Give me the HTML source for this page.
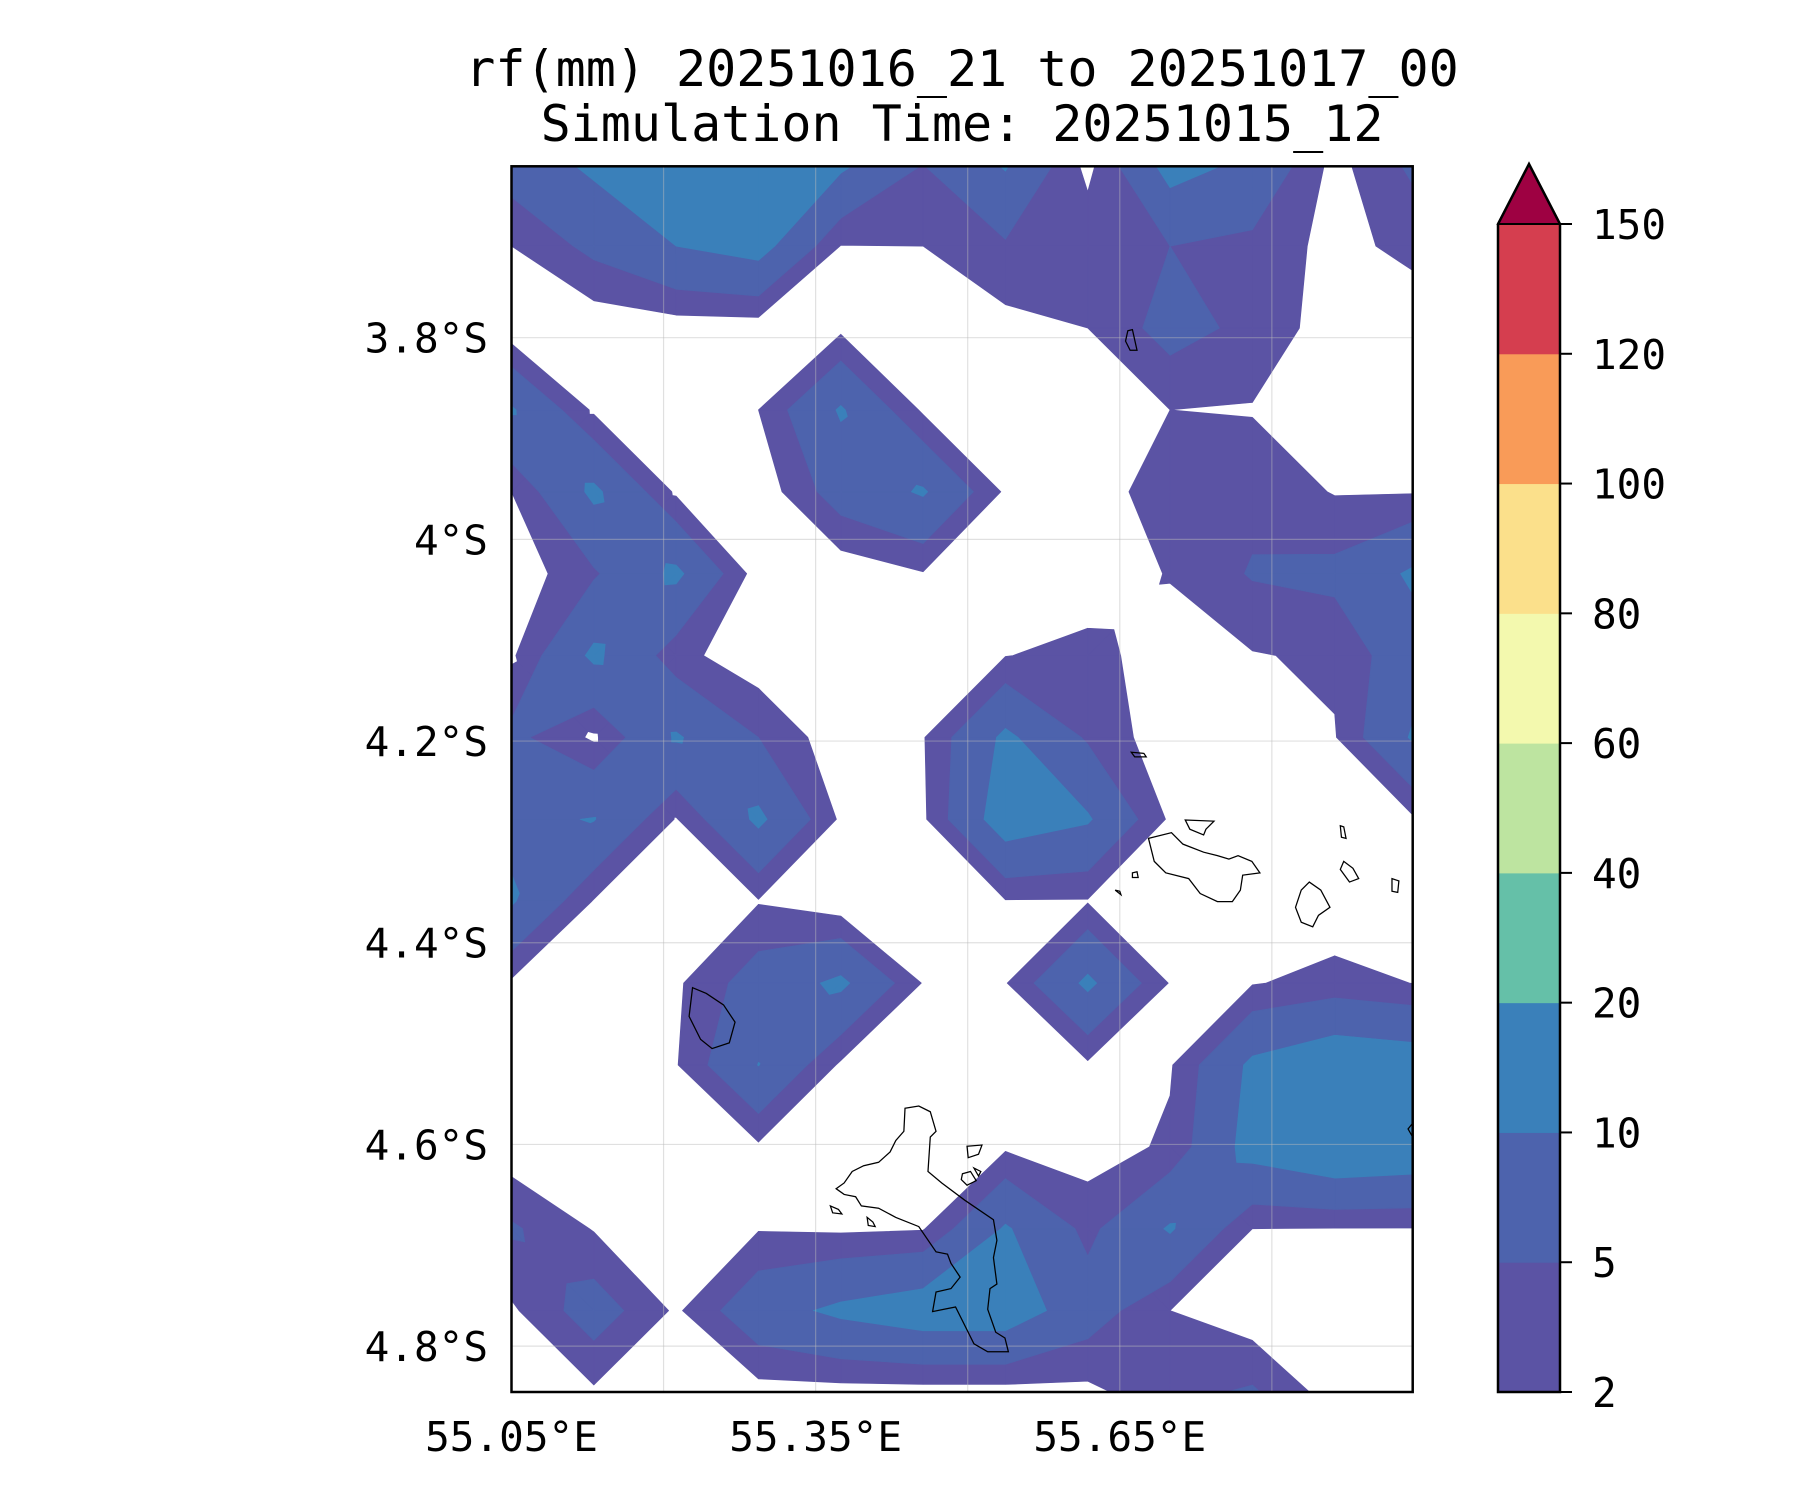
<!DOCTYPE html>
<html><head><meta charset="utf-8"><style>
html,body{margin:0;padding:0;background:#fff;}
svg{display:block;font-family:"DejaVu Sans Mono","Liberation Mono",monospace;}
</style></head><body>
<svg id="chart" width="1800" height="1500" viewBox="0 0 1800 1500" xmlns="http://www.w3.org/2000/svg">
  <text x="962" y="86" font-size="50" text-anchor="middle" fill="#000">rf(mm) 20251016_21 to 20251017_00</text>
  <text x="962" y="141" font-size="50" text-anchor="middle" fill="#000">Simulation Time: 20251015_12</text>
  <defs><clipPath id="mapclip"><rect x="511.5" y="166.3" width="901.2" height="1225.7"/></clipPath></defs>
  <g id="contours" clip-path="url(#mapclip)"></g>
  <g id="grid" clip-path="url(#mapclip)"></g>
  <g id="coast" clip-path="url(#mapclip)" transform="scale(1.1485)" fill="none" stroke="#000" stroke-width="1.1">
    <path d="M788,965 L800,963 810,968 815,985 810,990 808,1020 820,1030 840,1045 865,1062 868,1080 865,1095 868,1118 862,1122 860,1140 867,1160 875,1165 878,1177 860,1177 848,1170 838,1150 832,1138 822,1140 812,1142 815,1125 828,1122 836,1112 828,1100 825,1092 815,1090 800,1068 780,1060 765,1052 750,1050 745,1042 735,1040 728,1035 735,1030 742,1020 752,1015 765,1012 775,1003 780,993 787,985 Z"/>
    <path d="M842,998 L855,997 852,1005 843,1008 Z M838,1022 L845,1020 850,1028 842,1032 837,1027 Z M848,1017 L854,1020 852,1024 Z M723,1050 L730,1053 733,1057 725,1056 Z M755,1060 L760,1064 762,1068 756,1067 Z"/>
    <path d="M1000,730 L1020,725 1030,735 1048,742 1060,745 1070,748 1078,745 1090,750 1097,760 1082,762 1080,775 1073,785 1060,785 1045,778 1035,765 1015,760 1005,750 Z"/>
    <path d="M1140,768 L1150,775 1158,790 1148,797 1143,807 1133,803 1128,790 1133,775 Z"/>
    <path d="M603,860 L615,865 630,875 640,890 635,908 620,913 610,905 600,885 Z"/>
    <path d="M982,288 L986,287 990,305 984,305 980,297 Z M1032,714 L1057,715 1050,722 1048,727 1036,722 Z M985,655 L996,656 998,659 988,659 Z M1167,719 L1170,720 1172,730 1168,729 Z M1170,750 L1178,756 1183,765 1175,768 1167,757 Z M1212,765 L1218,767 1217,777 1212,776 Z M1230,978 L1226,983 1230,990 Z M986,760 L990,759 991,764 986,764 Z M971,775 L975,776 976,779 Z"/>
  </g>
  <rect x="511.5" y="166.3" width="901.2" height="1225.7" fill="none" stroke="#000" stroke-width="2.5"/>
  <g id="axes" font-size="41" fill="#000"></g>
  <g id="cbar"></g>
</svg>
<script>
// ---- data ----
const levels = [2, 5, 10, 20, 40, 60, 80, 100, 120, 150];
const levelColors = ["#5b53a4", "#4d63ad", "#3a80ba", "#65c0a8", "#bde4a0", "#f3f9ae", "#fbe08b", "#f99b58", "#d53e4f"];
const extendColor = "#9e0142";
const gridLons = [55.05,55.1312,55.2124,55.2936,55.3748,55.456,55.5372,55.6184,55.6996,55.7808,55.862,55.9432];
const gridLats = [-3.628,-3.7092,-3.7904,-3.8716,-3.9528,-4.034,-4.1152,-4.1964,-4.2776,-4.3588,-4.44,-4.5212,-4.6024,-4.6836,-4.7648,-4.846];
const row0  = [7,11,14,14,11,5,10.5,1,12,9,1,6];
const row1  = [2,6,10,12,1.9,2,4.5,4,5,4,1,3];
const row2  = [0,0,0.5,0.5,1.3,0,1,2,6.5,4,0.5,0];
const row3  = [10.5,1.5,0,2,10.5,1.5,0,0,2,1.8,0,0];
const row4  = [2,11,1.5,0,7,10.5,1.5,0,4,4,1.8,1.8];
const row5  = [0,4.5,11,0.5,0,1.8,0,0,2.2,5.3,6,11];
const row6  = [1.5,11,3,0,0,0,1.9,3,0.5,1.8,2.5,8];
const row7  = [6,1.5,10.5,5,0,1.8,11,4.5,0,0,1.8,11];
const row8  = [9,10.2,1.8,11,1.5,1.5,13,10.5,1.5,0,0,2];
const row9  = [10.5,1.8,0,1.8,0,0,1.8,1.8,0,0,0,0];
const row10 = [1.5,0,1.5,7,11,1.8,1.8,11,1.8,1.8,3,1.9];
const row11 = [0,0,1.8,10.1,1.5,0,0,1.5,1.7,11,14,13];
const row12 = [0,0,0,1.5,0,0,1.5,0.5,2.5,12,15,14];
const row13 = [5.5,1.8,0,1.8,1.5,1.8,10.5,4,10.5,2,1.9,1.9];
const row14 = [1.5,7,1.5,8,11,13,13,7,2,0,0,0];
const row15 = [0,1.5,0,0.8,0.8,0.8,0.8,1.2,4,5.5,0.5,0];
const rainGrid = [row0,row1,row2,row3,row4,row5,row6,row7,row8,row9,row10,row11,row12,row13,row14,row15];
const xTickLons = [55.05, 55.35, 55.65];
const xTickLabels = ["55.05°E", "55.35°E", "55.65°E"];
const yTickLats = [-3.8, -4.0, -4.2, -4.4, -4.6, -4.8];
const yTickLabels = ["3.8°S", "4°S", "4.2°S", "4.4°S", "4.6°S", "4.8°S"];
const gridLonLines = [55.2, 55.35, 55.5, 55.65, 55.8];

// ---- axes ----
const NS = "http://www.w3.org/2000/svg";
const X0 = 511.5, LON0 = 55.05, PXLON = 1013.8;
const Y0 = 337.7, LAT0 = -3.8, PXLAT = 1008.4;
function xOf(lon){ return X0 + (lon - LON0) * PXLON; }
function yOf(lat){ return Y0 + (LAT0 - lat) * PXLAT; }

function mk(tag, attrs, parent){
  const e = document.createElementNS(NS, tag);
  for (const k in attrs) e.setAttribute(k, attrs[k]);
  parent.appendChild(e);
  return e;
}

// ---- filled contours (marching squares; saddles resolved by centre value per band) ----
function clip(poly, lo, keepAbove){
  const out = [];
  for (let i = 0; i < poly.length; i++){
    const a = poly[i], b = poly[(i+1) % poly.length];
    const ina = keepAbove ? a[2] >= lo : a[2] < lo;
    const inb = keepAbove ? b[2] >= lo : b[2] < lo;
    if (ina) out.push(a);
    if (ina !== inb){
      const t = (lo - a[2]) / (b[2] - a[2]);
      out.push([a[0] + t*(b[0]-a[0]), a[1] + t*(b[1]-a[1]), lo]);
    }
  }
  return out;
}
function saddleAt(q, lv){
  const s = q.map(p => p[2] >= lv);
  return s[0] === s[2] && s[1] === s[3] && s[0] !== s[1];
}
const bandPaths = levels.slice(0, -1).map(() => []);
const extPath = [];
function toPath(p){ return "M" + p.map(v => v[0].toFixed(2) + "," + v[1].toFixed(2)).join("L") + "Z"; }
function bandPiece(poly, lo, hi){
  let p = clip(poly, lo, true);
  if (p.length < 3) return null;
  if (hi !== null){ p = clip(p, hi, false); if (p.length < 3) return null; }
  return p;
}
for (let j = 0; j < gridLats.length - 1; j++){
  for (let i = 0; i < gridLons.length - 1; i++){
    const p00 = [xOf(gridLons[i]),   yOf(gridLats[j]),   rainGrid[j][i]];
    const p10 = [xOf(gridLons[i+1]), yOf(gridLats[j]),   rainGrid[j][i+1]];
    const p11 = [xOf(gridLons[i+1]), yOf(gridLats[j+1]), rainGrid[j+1][i+1]];
    const p01 = [xOf(gridLons[i]),   yOf(gridLats[j+1]), rainGrid[j+1][i]];
    const quad = [p00, p10, p11, p01];
    const avg = (p00[2]+p10[2]+p11[2]+p01[2])/4;
    const c = [(p00[0]+p11[0])/2, (p00[1]+p11[1])/2, avg];
    const tris = [[p00,p10,c],[p10,p11,c],[p11,p01,c],[p01,p00,c]];
    for (let b = 0; b < levels.length; b++){
      const lo = levels[b], hi = b < levels.length - 1 ? levels[b+1] : null;
      const needSplit = (saddleAt(quad, lo) && avg < lo) || (hi !== null && saddleAt(quad, hi) && avg >= hi);
      const target = hi === null ? extPath : bandPaths[b];
      if (needSplit){
        tris.forEach(t => { const p = bandPiece(t, lo, hi); if (p) target.push(toPath(p)); });
      } else {
        const p = bandPiece(quad, lo, hi); if (p) target.push(toPath(p));
      }
    }
  }
}
const cg = document.getElementById("contours");
bandPaths.forEach((segs, b) => {
  if (!segs.length) return;
  const p = mk("path", {d: segs.join(""), fill: levelColors[b], stroke: levelColors[b], "stroke-width": "0.7", "stroke-linejoin": "round"}, cg);
  
  
});
if (extPath.length){
  const p = mk("path", {d: extPath.join(""), fill: extendColor, stroke: extendColor, "stroke-width": "0.7"}, cg);
  
  
}

// ---- gridlines ----
const gg = document.getElementById("grid");
gridLonLines.forEach(lon => {
  const l = mk("line", {x1: xOf(lon), x2: xOf(lon), y1: 166, y2: 1392, stroke: "#bbbbbb", "stroke-opacity": "0.45", "stroke-width": "1.2"}, gg);
  
  
});
yTickLats.forEach(lat => {
  const l = mk("line", {x1: 511, x2: 1413, y1: yOf(lat), y2: yOf(lat), stroke: "#bbbbbb", "stroke-opacity": "0.45", "stroke-width": "1.2"}, gg);
  
  
});

// ---- tick labels ----
const ag = document.getElementById("axes");
xTickLons.forEach((lon, k) => {
  const t = mk("text", {x: xOf(lon), y: 1451, "text-anchor": "middle"}, ag);
  t.textContent = xTickLabels[k];
  
  
});
yTickLats.forEach((lat, k) => {
  const t = mk("text", {x: 488, y: yOf(lat) + 15, "text-anchor": "end"}, ag);
  t.textContent = yTickLabels[k];
  
  
});

// ---- colorbar ----
const cb = document.getElementById("cbar");
const CBX = 1498, CBW = 62, CBTOP = 224, CBBOT = 1392;
const seg = (CBBOT - CBTOP) / (levels.length - 1);
function cbY(idx){ return CBBOT - idx * seg; }
levelColors.forEach((col, k) => {
  const r = mk("rect", {x: CBX, y: cbY(k+1), width: CBW, height: seg + 0.5, fill: col}, cb);
  
  
});
const tri = mk("polygon", {points: `${CBX},${CBTOP} ${CBX+CBW/2},${CBTOP-60} ${CBX+CBW},${CBTOP}`, fill: extendColor, stroke: "#000", "stroke-width": "2"}, cb);


const frame = mk("polygon", {points: `${CBX},${CBBOT} ${CBX},${CBTOP} ${CBX+CBW/2},${CBTOP-60} ${CBX+CBW},${CBTOP} ${CBX+CBW},${CBBOT}`, fill: "none", stroke: "#000", "stroke-width": "2.5"}, cb);


levels.forEach((lv, k) => {
  const y = cbY(k);
  const tk = mk("line", {x1: CBX+CBW, x2: CBX+CBW+12, y1: y, y2: y, stroke: "#000", "stroke-width": "2"}, cb);
  
  
  const t = mk("text", {x: 1592, y: y + 15, "font-size": "41", fill: "#000"}, cb);
  t.textContent = String(lv);
  
  
});
</script>
</body></html>
